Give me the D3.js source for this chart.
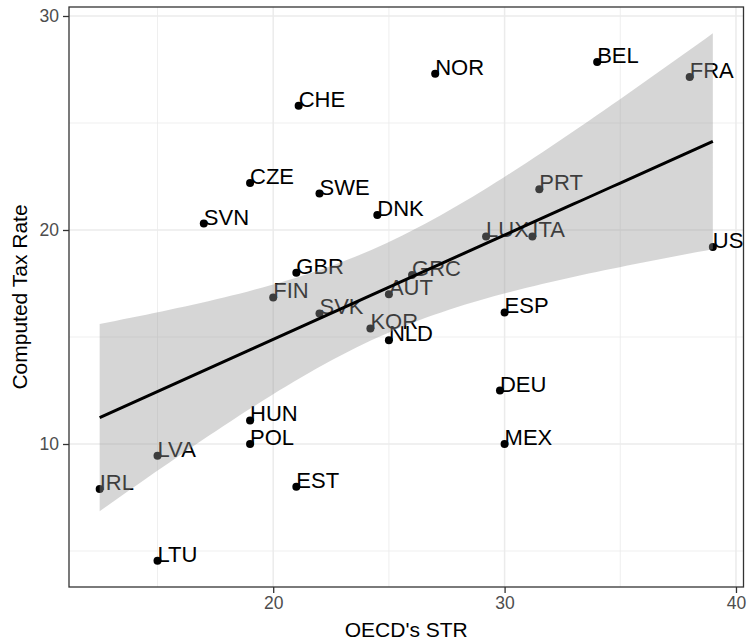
<!DOCTYPE html>
<html>
<head>
<meta charset="utf-8">
<script src="https://cdn.jsdelivr.net/npm/d3@7"></script>
<style>
  html, body { margin: 0; padding: 0; background: #ffffff; }
  svg { display: block; }
  text { font-family: "Liberation Sans", Arial, Helvetica, sans-serif; }
</style>
</head>
<body>
<svg id="chart" width="748" height="643"></svg>
<script>
// Country codes with statutory rate (OECD's STR) and computed tax rate
const countries = ["CHE","CZE","SWE","SVN","DNK","GBR","FIN","NOR","BEL","FRA",
                   "PRT","LUX","ITA","US","GRC","SVK","AUT","KOR","NLD","HUN",
                   "POL","LVA","IRL","EST","LTU","ESP","DEU","MEX"];
const oecdStr = [21.1, 19, 22, 17, 24.5, 21, 20, 27, 34, 38,
                 31.5, 29.2, 31.2, 39, 26, 22, 25, 24.2, 25, 19,
                 19, 15, 12.5, 21, 15, 30, 29.8, 30];
const computedRate = [25.8, 22.2, 21.7, 20.3, 20.7, 18.0, 16.85, 27.3, 27.85, 27.15,
                      21.9, 19.7, 19.7, 19.2, 17.9, 16.1, 17.0, 15.4, 14.85, 11.1,
                      10.0, 9.45, 7.9, 8.0, 4.55, 16.15, 12.5, 10.0];
const xTicks = [20, 30, 40];
const yTicks = [10, 20, 30];
const xMinorTicks = [15, 25, 35];
const yMinorTicks = [5, 15, 25];

const points = countries.map((c, i) => ({ code: c, x: oecdStr[i], y: computedRate[i] }));

// Ordinary least squares fit with a 95% confidence band
const n = points.length;
const mx = d3.mean(points, d => d.x);
const my = d3.mean(points, d => d.y);
const sxx = d3.sum(points, d => (d.x - mx) ** 2);
const sxy = d3.sum(points, d => (d.x - mx) * (d.y - my));
const slope = sxy / sxx;
const intercept = my - slope * mx;
const sse = d3.sum(points, d => (d.y - (intercept + slope * d.x)) ** 2);
const sigma = Math.sqrt(sse / (n - 2));
const tCrit = 2.0555; // t quantile 0.975 for n - 2 = 26 degrees of freedom

const [xLo, xHi] = d3.extent(points, d => d.x);
const fit = d3.range(80).map(i => {
  const x = xLo + (xHi - xLo) * i / 79;
  const yhat = intercept + slope * x;
  const se = sigma * Math.sqrt(1 / n + (x - mx) ** 2 / sxx);
  return { x, y: yhat, lo: yhat - tCrit * se, hi: yhat + tCrit * se };
});

// Scales expanded by 5% of the data range on each side
function expand(lo, hi) { const r = hi - lo; return [lo - 0.05 * r, hi + 0.05 * r]; }
const yAll = points.map(d => d.y).concat(fit.map(d => d.lo), fit.map(d => d.hi));

const panel = { left: 69, right: 743.5, top: 7, bottom: 587 };
const x = d3.scaleLinear().domain(expand(xLo, xHi)).range([panel.left, panel.right]);
const y = d3.scaleLinear().domain(expand(d3.min(yAll), d3.max(yAll))).range([panel.bottom, panel.top]);

const svg = d3.select("#chart");

// Grid lines
const grid = svg.append("g");
grid.selectAll("line.xminor").data(xMinorTicks).join("line")
  .attr("x1", d => x(d)).attr("x2", d => x(d))
  .attr("y1", panel.top).attr("y2", panel.bottom)
  .attr("stroke", "#ebebeb").attr("stroke-width", 0.8);
grid.selectAll("line.yminor").data(yMinorTicks).join("line")
  .attr("y1", d => y(d)).attr("y2", d => y(d))
  .attr("x1", panel.left).attr("x2", panel.right)
  .attr("stroke", "#ebebeb").attr("stroke-width", 0.8);
grid.selectAll("line.xmajor").data(xTicks).join("line")
  .attr("x1", d => x(d)).attr("x2", d => x(d))
  .attr("y1", panel.top).attr("y2", panel.bottom)
  .attr("stroke", "#ebebeb").attr("stroke-width", 1.5);
grid.selectAll("line.ymajor").data(yTicks).join("line")
  .attr("y1", d => y(d)).attr("y2", d => y(d))
  .attr("x1", panel.left).attr("x2", panel.right)
  .attr("stroke", "#ebebeb").attr("stroke-width", 1.5);

// Clip everything drawn inside the panel
svg.append("clipPath").attr("id", "panel-clip")
  .append("rect")
  .attr("x", panel.left).attr("y", panel.top)
  .attr("width", panel.right - panel.left).attr("height", panel.bottom - panel.top);
const plot = svg.append("g").attr("clip-path", "url(#panel-clip)");

// Points
plot.selectAll("circle").data(points).join("circle")
  .attr("cx", d => x(d.x)).attr("cy", d => y(d.y))
  .attr("r", 4).attr("fill", "#000");

// Country labels
plot.selectAll("text.lab").data(points).join("text")
  .attr("class", "lab")
  .attr("x", d => x(d.x))
  .attr("y", d => y(d.y) + 1)
  .attr("font-size", 22)
  .attr("fill", "#000")
  .text(d => d.code);

// Confidence band and fitted line
plot.append("path").datum(fit)
  .attr("d", d3.area().x(d => x(d.x)).y0(d => y(d.lo)).y1(d => y(d.hi)))
  .attr("fill", "#999999").attr("fill-opacity", 0.4);
plot.append("path").datum(fit)
  .attr("d", d3.line().x(d => x(d.x)).y(d => y(d.y)))
  .attr("fill", "none").attr("stroke", "#000").attr("stroke-width", 3);

// Panel border
svg.append("rect")
  .attr("x", panel.left).attr("y", panel.top)
  .attr("width", panel.right - panel.left).attr("height", panel.bottom - panel.top)
  .attr("fill", "none").attr("stroke", "#333333").attr("stroke-width", 1.3);

// Axes
const xAxis = d3.axisBottom(x).tickValues(xTicks).tickSize(6).tickPadding(4).tickFormat(d3.format("d"));
const yAxis = d3.axisLeft(y).tickValues(yTicks).tickSize(6).tickPadding(4).tickFormat(d3.format("d"));

const gx = svg.append("g").attr("transform", `translate(0,${panel.bottom})`).call(xAxis);
const gy = svg.append("g").attr("transform", `translate(${panel.left},0)`).call(yAxis);
[gx, gy].forEach(g => {
  g.select(".domain").remove();
  g.selectAll(".tick line").attr("stroke", "#333333").attr("stroke-width", 1.3);
  g.selectAll(".tick text").attr("fill", "#4d4d4d").attr("font-size", 17.5)
    .attr("font-family", "'Liberation Sans', Arial, Helvetica, sans-serif");
});

// Axis titles
svg.append("text")
  .attr("x", (panel.left + panel.right) / 2).attr("y", 637)
  .attr("text-anchor", "middle").attr("font-size", 21).attr("fill", "#000")
  .text("OECD's STR");
svg.append("text")
  .attr("transform", `translate(27,${(panel.top + panel.bottom) / 2}) rotate(-90)`)
  .attr("text-anchor", "middle").attr("font-size", 21).attr("fill", "#000")
  .text("Computed Tax Rate");
</script>
</body>
</html>
